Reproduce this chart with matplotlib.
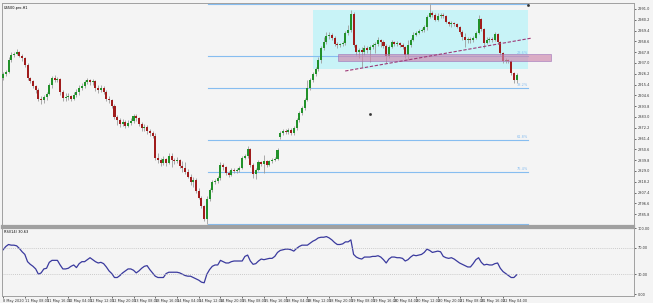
import matplotlib
matplotlib.use("Agg")
import matplotlib.pyplot as plt
import matplotlib.patches as patches
import numpy as np

# chart title / indicator caption
symbol = "US500.pro,H1"
rsi_caption = "RSI(14) 30.63"

# hourly OHLC
opens = [2922, 2926, 2928, 2940, 2945, 2946, 2948, 2944, 2942, 2935, 2922, 2919, 2914, 2910, 2901, 2900,
         2903, 2906, 2915, 2922, 2920, 2921, 2908, 2902, 2903, 2904, 2901, 2905, 2908, 2912, 2914, 2918,
         2920, 2918, 2919, 2912, 2910, 2912, 2908, 2901, 2900, 2894, 2883, 2880, 2876, 2878, 2874, 2877,
         2879, 2884, 2882, 2876, 2872, 2873, 2869, 2867, 2864, 2842, 2840, 2837, 2841, 2837, 2844, 2840,
         2839, 2840, 2834, 2832, 2828, 2823, 2818, 2820, 2809, 2802, 2794, 2781, 2801, 2810, 2818, 2819,
         2822, 2835, 2833, 2827, 2825, 2830, 2829, 2830, 2832, 2842, 2844, 2851, 2835, 2826, 2830, 2838,
         2836, 2839, 2835, 2839, 2840, 2841, 2863, 2867, 2869, 2868, 2870, 2867, 2872, 2880, 2887, 2892,
         2900, 2912, 2920, 2926, 2931, 2940, 2952, 2958, 2964, 2965, 2962, 2956, 2955, 2956, 2957, 2967,
         2970, 2986, 2955, 2948, 2950, 2948, 2952, 2950, 2953, 2955, 2956, 2960, 2958, 2954, 2944, 2953,
         2958, 2956, 2957, 2955, 2953, 2945, 2955, 2960, 2965, 2967, 2969, 2970, 2973, 2983, 2987, 2985,
         2980, 2984, 2985, 2984, 2978, 2976, 2977, 2976, 2973, 2968, 2963, 2960, 2961, 2960, 2962, 2967,
         2981, 2971, 2957, 2960, 2961, 2960, 2966, 2958, 2947, 2939, 2940, 2939, 2927, 2920]
highs = [2928, 2930, 2943, 2948, 2948, 2951, 2949, 2946, 2943, 2937, 2923, 2920, 2915, 2912, 2904, 2905,
         2908, 2917, 2924, 2925, 2923, 2922, 2910, 2907, 2907, 2905, 2908, 2911, 2915, 2917, 2920, 2922,
         2921, 2921, 2920, 2915, 2915, 2914, 2910, 2904, 2901, 2896, 2885, 2882, 2881, 2880, 2880, 2882,
         2886, 2886, 2883, 2878, 2876, 2875, 2871, 2869, 2867, 2847, 2842, 2844, 2842, 2847, 2847, 2842,
         2843, 2841, 2839, 2838, 2831, 2826, 2823, 2822, 2812, 2804, 2795, 2804, 2812, 2820, 2821, 2824,
         2838, 2837, 2834, 2829, 2832, 2832, 2832, 2834, 2844, 2846, 2854, 2852, 2837, 2832, 2840, 2839,
         2845, 2840, 2840, 2842, 2843, 2852, 2869, 2871, 2871, 2872, 2872, 2874, 2882, 2889, 2894, 2902,
         2920, 2922, 2928, 2933, 2943, 2954, 2963, 2968, 2968, 2967, 2964, 2958, 2957, 2959, 2969, 2975,
         2990, 2988, 2956, 2952, 2953, 2955, 2954, 2955, 2957, 2958, 2963, 2961, 2960, 2956, 2955, 2960,
         2959, 2959, 2958, 2957, 2954, 2960, 2962, 2968, 2969, 2971, 2972, 2975, 2985, 2996, 2989, 2987,
         2987, 2987, 2987, 2985, 2979, 2979, 2978, 2977, 2974, 2970, 2967, 2963, 2963, 2964, 2969, 2985,
         2982, 2972, 2963, 2963, 2963, 2968, 2967, 2959, 2948, 2942, 2941, 2940, 2928, 2927]
lows = [2920, 2924, 2927, 2938, 2943, 2945, 2943, 2939, 2933, 2920, 2917, 2912, 2907, 2899, 2896, 2897,
        2900, 2905, 2912, 2918, 2918, 2905, 2899, 2899, 2900, 2899, 2900, 2903, 2905, 2910, 2912, 2916,
        2915, 2915, 2909, 2907, 2908, 2906, 2899, 2897, 2892, 2881, 2875, 2873, 2874, 2872, 2873, 2875,
        2877, 2879, 2874, 2869, 2869, 2866, 2864, 2862, 2840, 2837, 2834, 2835, 2834, 2836, 2833, 2836,
        2837, 2832, 2828, 2826, 2822, 2815, 2813, 2807, 2801, 2792, 2779, 2776, 2799, 2808, 2816, 2817,
        2820, 2830, 2825, 2823, 2824, 2827, 2827, 2828, 2831, 2841, 2842, 2833, 2822, 2821, 2829, 2834,
        2827, 2833, 2834, 2837, 2839, 2840, 2861, 2865, 2866, 2866, 2865, 2865, 2870, 2878, 2885, 2890,
        2899, 2910, 2918, 2924, 2929, 2937, 2950, 2956, 2961, 2960, 2954, 2952, 2953, 2954, 2955, 2965,
        2968, 2953, 2945, 2942, 2933, 2945, 2947, 2938, 2951, 2947, 2954, 2953, 2952, 2937, 2942, 2952,
        2954, 2954, 2953, 2951, 2942, 2940, 2953, 2959, 2964, 2966, 2968, 2968, 2970, 2982, 2983, 2979,
        2979, 2982, 2982, 2977, 2974, 2973, 2974, 2972, 2966, 2960, 2953, 2957, 2957, 2958, 2961, 2966,
        2969, 2952, 2956, 2958, 2958, 2959, 2956, 2945, 2937, 2937, 2937, 2925, 2917, 2917]
closes = [2926, 2928, 2940, 2945, 2946, 2948, 2944, 2942, 2935, 2922, 2919, 2914, 2910, 2901, 2900, 2903,
          2906, 2915, 2922, 2920, 2921, 2908, 2902, 2903, 2904, 2901, 2905, 2908, 2912, 2914, 2918, 2920,
          2918, 2919, 2912, 2910, 2912, 2908, 2901, 2900, 2894, 2883, 2880, 2876, 2878, 2874, 2877, 2879,
          2884, 2882, 2876, 2872, 2873, 2869, 2867, 2864, 2842, 2840, 2837, 2841, 2837, 2844, 2840, 2839,
          2840, 2834, 2832, 2828, 2823, 2818, 2820, 2809, 2802, 2794, 2781, 2801, 2810, 2818, 2819, 2822,
          2835, 2833, 2827, 2825, 2830, 2829, 2830, 2832, 2842, 2844, 2851, 2835, 2826, 2830, 2838, 2836,
          2839, 2835, 2839, 2840, 2841, 2850, 2867, 2869, 2868, 2870, 2867, 2872, 2880, 2887, 2892, 2900,
          2912, 2920, 2926, 2931, 2940, 2952, 2958, 2964, 2965, 2962, 2956, 2955, 2956, 2957, 2967, 2970,
          2986, 2955, 2948, 2950, 2948, 2952, 2950, 2953, 2955, 2956, 2960, 2958, 2954, 2944, 2953, 2958,
          2956, 2957, 2955, 2953, 2945, 2955, 2960, 2965, 2967, 2969, 2970, 2973, 2983, 2987, 2985, 2980,
          2984, 2985, 2984, 2978, 2976, 2977, 2976, 2973, 2968, 2963, 2960, 2961, 2960, 2962, 2967, 2981,
          2971, 2957, 2960, 2961, 2960, 2966, 2958, 2947, 2939, 2940, 2939, 2927, 2920, 2925]

# RSI(14) per bar
rsi = [67, 72, 75, 74, 74, 73, 69, 64, 60, 49, 45, 42, 38, 30, 32, 38,
       39, 48, 51, 51, 51, 44, 38, 38, 39, 42, 44, 40, 46, 49, 49, 52,
       55, 52, 49, 47, 48, 46, 41, 35, 31, 25, 25, 28, 32, 35, 38, 38,
       36, 32, 35, 39, 42, 43, 37, 32, 27, 25, 25, 25, 31, 33, 33, 33,
       33, 32, 30, 28, 27, 27, 25, 23, 21, 18, 17, 30, 37, 42, 44, 44,
       51, 49, 47, 47, 49, 50, 50, 50, 50, 57, 59, 50, 45, 46, 50, 53,
       52, 53, 54, 54, 57, 63, 66, 67, 68, 68, 67, 65, 69, 72, 74, 74,
       74, 77, 80, 82, 85, 86, 86, 87, 85, 82, 78, 75, 75, 76, 79, 79,
       82, 60, 56, 54, 53, 56, 56, 56, 57, 57, 58, 56, 52, 47, 53, 56,
       56, 55, 55, 54, 50, 52, 56, 59, 58, 59, 60, 63, 68, 66, 63, 64,
       65, 64, 57, 55, 54, 55, 53, 50, 47, 45, 43, 41, 41, 46, 52, 55,
       48, 44, 45, 44, 44, 46, 47, 39, 34, 31, 28, 25, 25, 29]

time_labels = ["8 May 2020", "11 May 08:00", "11 May 16:00", "12 May 04:00", "12 May 12:00",
               "12 May 20:00", "13 May 08:00", "13 May 16:00", "14 May 04:00", "14 May 12:00",
               "14 May 20:00", "15 May 08:00", "15 May 16:00", "18 May 04:00", "18 May 12:00",
               "18 May 20:00", "19 May 08:00", "19 May 16:00", "20 May 04:00", "20 May 12:00",
               "20 May 20:00", "21 May 08:00", "21 May 16:00", "22 May 04:00"]
label_every = 8

price_ticks = [2991.0, 2980.2, 2969.4, 2958.6, 2947.8, 2937.0, 2926.2, 2915.4, 2904.6, 2893.8,
               2883.0, 2872.2, 2861.4, 2850.6, 2839.8, 2829.0, 2818.2, 2807.4, 2796.6, 2785.8]
rsi_ticks = [100, 70, 30, 0]
rsi_levels = [70, 30]

# drawn objects
fib_low, fib_high = 2776, 2996
fib_levels = [23.6, 38.2, 61.8, 76.4]
fib_x = (75.4, 193.2)
box = (114.1, 193.2, 2931, 2990)
band = (123.3, 201.7, 2939, 2946)
trend = [(125.9, 2929), (194.7, 2962)]
dots = [(193.2, 2995), (135.1, 2886)]

BG = "#f4f4f4"
EDGE = "#a0a0a0"
FIB = "#86bdf0"
FS = 2.5

fig = plt.figure(figsize=(6.53, 3.03), dpi=100, facecolor=BG)
ax = fig.add_axes([2 / 653, 1 - 226 / 303, 632 / 653, 223 / 303], facecolor=BG)
ax2 = fig.add_axes([2 / 653, 1 - 296 / 303, 632 / 653, 68 / 303], facecolor=BG)

o = np.array(opens, float)
h = np.array(highs, float)
l = np.array(lows, float)
c = np.array(closes, float)
idx = np.arange(len(c))
up = c >= o

# objects under the candles
ax.add_patch(patches.Rectangle((box[0], box[2]), box[1] - box[0], box[3] - box[2],
                               facecolor="#c8f3f7", edgecolor="none", zorder=1))
ax.plot([fib_x[0], fib_x[1]], [fib_high, fib_high], color=FIB, lw=0.8, zorder=2)
ax.plot([fib_x[0], fib_x[1]], [fib_low, fib_low], color=FIB, lw=0.8, zorder=2)
for lv in fib_levels:
    p = fib_high - (fib_high - fib_low) * lv / 100
    ax.plot([fib_x[0], fib_x[1]], [p, p], color=FIB, lw=0.8, zorder=2)
    ax.text(fib_x[1], p + 1.2, f"{lv:.1f}%", color=FIB, fontsize=FS, ha="right", va="bottom", zorder=6)

# candles
ax.vlines(idx, l, h, color="#9c9c9c", lw=0.6, zorder=3)
body = np.maximum(np.abs(c - o), 0.7)
ax.bar(idx[up], body[up], bottom=o[up], width=0.75, color="#22912a", lw=0, zorder=4)
ax.bar(idx[~up], body[~up], bottom=c[~up], width=0.75, color="#a01c1c", lw=0, zorder=4)

# objects over the candles
ax.add_patch(patches.Rectangle((band[0], band[2]), band[1] - band[0], band[3] - band[2],
                               facecolor="#cf86ad", edgecolor="#9c6fb8", lw=0.6, alpha=0.65, zorder=5))
ax.plot([trend[0][0], trend[1][0]], [trend[0][1], trend[1][1]], color="#9e3a78",
        lw=0.8, ls=(0, (3, 1.5)), zorder=6)
ax.plot([d[0] for d in dots], [d[1] for d in dots], "s", ms=0.9, color="#333333", zorder=6)

ax.text(0.003, 0.985, symbol, transform=ax.transAxes, fontsize=FS, ha="left", va="top")

ax.set_xlim(-0.4, 232.2)
ax.set_ylim(2774, 2997)
ax.yaxis.tick_right()
ax.set_yticks(price_ticks)
ax.set_yticklabels([f"{t:.1f}" for t in price_ticks])
ax.set_xticks([])
ax.tick_params(axis="y", labelsize=FS, length=1.5, width=0.5, pad=1, colors="#333333")

# RSI panel
ax2.plot(idx, rsi, color="#3a3a9e", lw=0.9)
for lv in rsi_levels:
    ax2.axhline(lv, color="#bdbdbd", lw=0.6, ls=(0, (1, 1.5)))
ax2.text(0.003, 0.97, rsi_caption, transform=ax2.transAxes, fontsize=FS, ha="left", va="top")
ax2.set_xlim(-0.4, 232.2)
ax2.set_ylim(-3.0, 100.0)
ax2.yaxis.tick_right()
ax2.set_yticks(rsi_ticks)
ax2.set_yticklabels([f"{t:.2f}" for t in rsi_ticks])
ax2.set_xticks(np.arange(len(time_labels)) * label_every)
ax2.set_xticklabels(time_labels)
for lbl in ax2.get_xticklabels():
    lbl.set_ha("left")
ax2.tick_params(labelsize=FS, length=1.5, width=0.5, pad=1, colors="#333333")

for a in (ax, ax2):
    for s in a.spines.values():
        s.set_color(EDGE)
        s.set_linewidth(0.7)
ax.spines["bottom"].set_linewidth(1.6)
ax2.spines["top"].set_linewidth(1.6)

fig.savefig("out.png", dpi=100, facecolor=BG)
